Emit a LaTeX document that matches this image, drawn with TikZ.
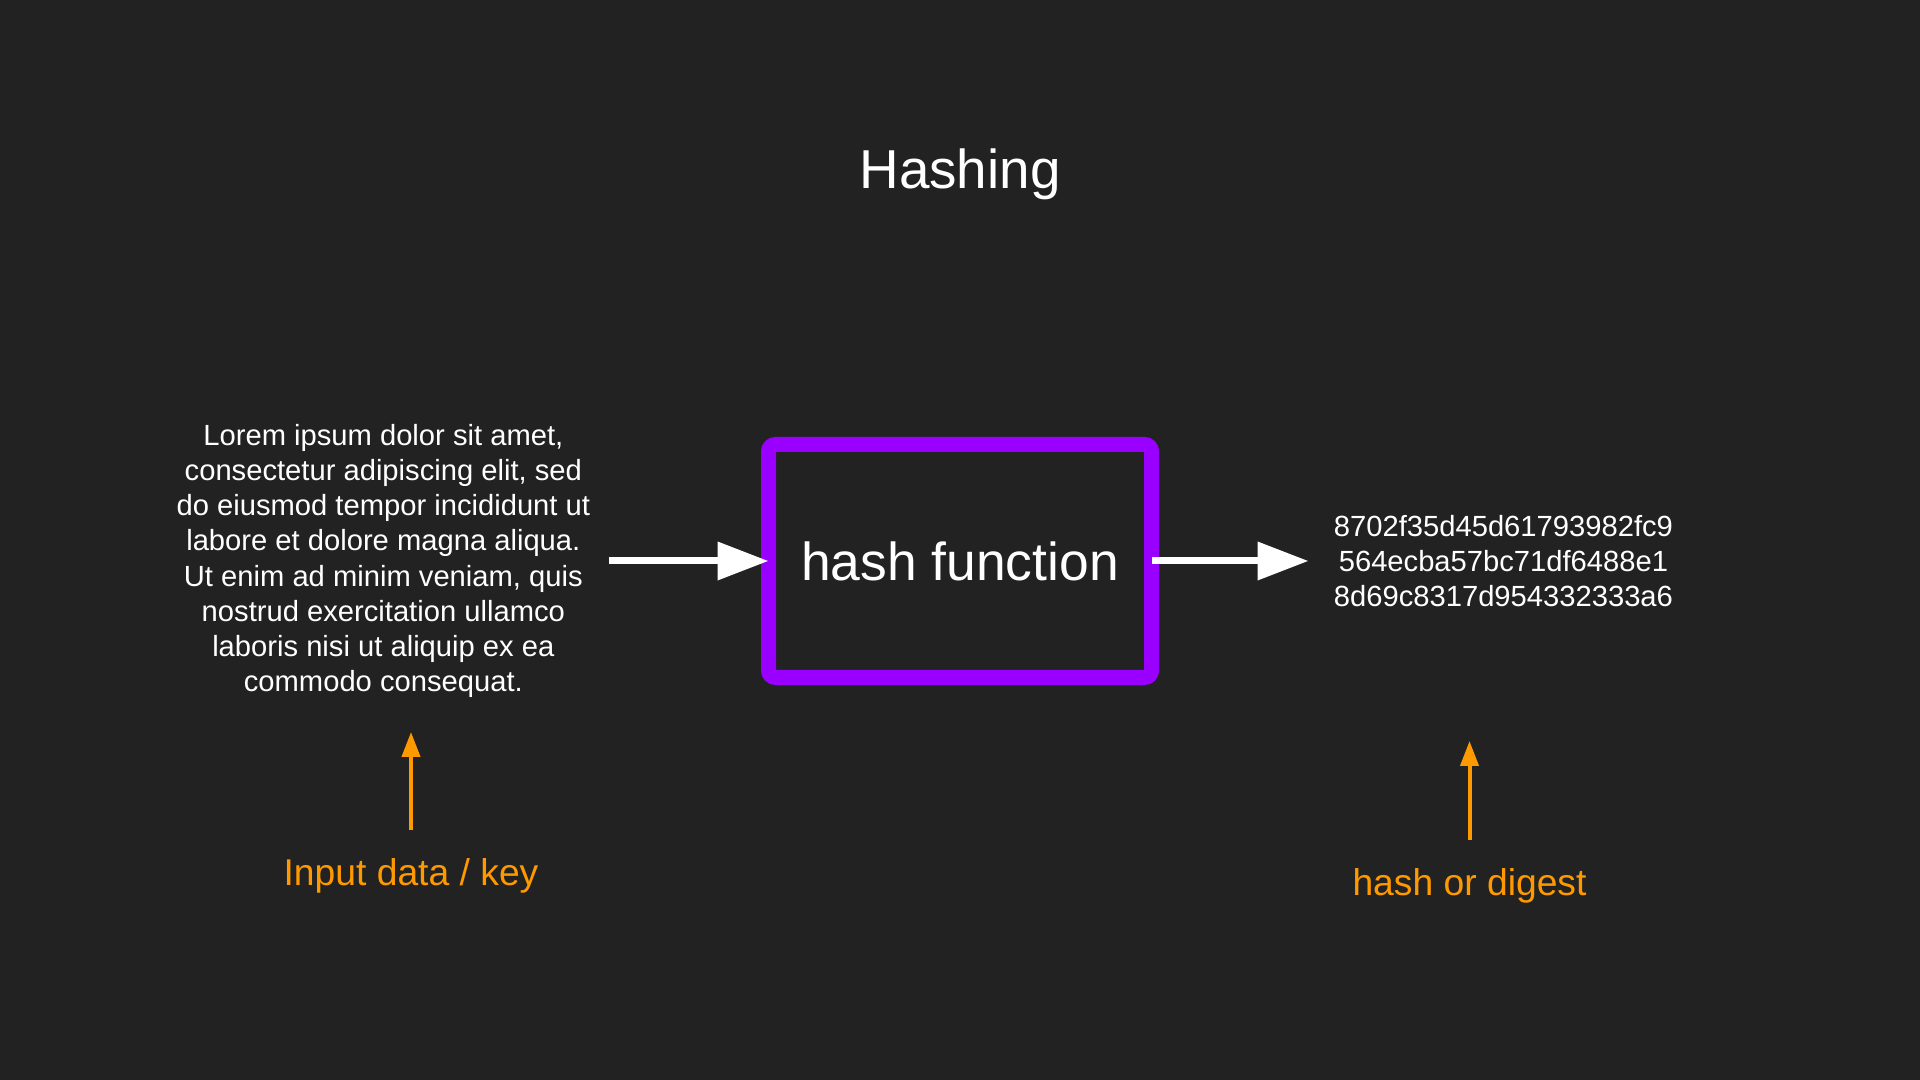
\documentclass[tikz,border=0pt]{standalone}
\usepackage{fontspec}
\setmainfont{Liberation Sans}
\usetikzlibrary{positioning, arrows.meta}
\definecolor{bgdark}{HTML}{222222}
\definecolor{hashpurple}{HTML}{9900FF}
\definecolor{noteorange}{HTML}{FF9900}
\tikzset{
    hashbox/.style={
        rectangle, draw=hashpurple, line width=0.15cm,
        minimum width=3.83cm, minimum height=2.33cm,
        rounded corners=2pt, outer sep=0pt,
        text=white, font=\fontsize{15.2}{18}\selectfont
    },
    plaintext/.style={
        text=white, align=center,
        font=\fontsize{8.3}{10}\selectfont
    },
    note/.style={
        text=noteorange, inner sep=2pt,
        font=\fontsize{10.6}{13}\selectfont
    },
    flow/.style={
        draw=white, line width=0.07cm,
        -{Triangle[length=0.51cm, width=0.37cm]}
    },
    pointer/.style={
        draw=noteorange, line width=0.04cm,
        -{Triangle[length=0.25cm, width=0.18cm]}
    }
}

\begin{document}
\begin{tikzpicture}[
    node distance=1.7cm
]

\fill[bgdark] (0,0) rectangle (19.2,10.8);

\node[text=white, font=\fontsize{15.6}{19}\selectfont] (title) at (9.6,9.06) {Hashing};

\node[hashbox] (hash) at (9.6,5.19) {hash function};

\node[plaintext, left=1.66cm of hash] (input) {Lorem ipsum dolor sit amet,\\consectetur adipiscing elit, sed\\do eiusmod tempor incididunt ut\\labore et dolore magna aliqua.\\Ut enim ad minim veniam, quis\\nostrud exercitation ullamco\\laboris nisi ut aliquip ex ea\\commodo consequat.};
\node[plaintext, right=of hash] (digest) {8702f35d45d61793982fc9\\564ecba57bc71df6488e1\\8d69c8317d954332333a6};

\coordinate (intip) at (4.11,3.48);
\coordinate (digtip) at (14.695,3.39);
\node[note] (inlabel) at (4.11,2.04) {Input data / key};
\node[note] (diglabel) at (14.695,1.94) {hash or digest};

\draw[flow, shorten <=0.06cm] (input) -- (hash);
\draw[flow, shorten >=0.13cm] (hash) -- (digest);

\draw[pointer, shorten <=0.21cm] (inlabel.north) -- (intip);
\draw[pointer, shorten <=0.21cm] (diglabel.north) -- (digtip);

\end{tikzpicture}
\end{document}
